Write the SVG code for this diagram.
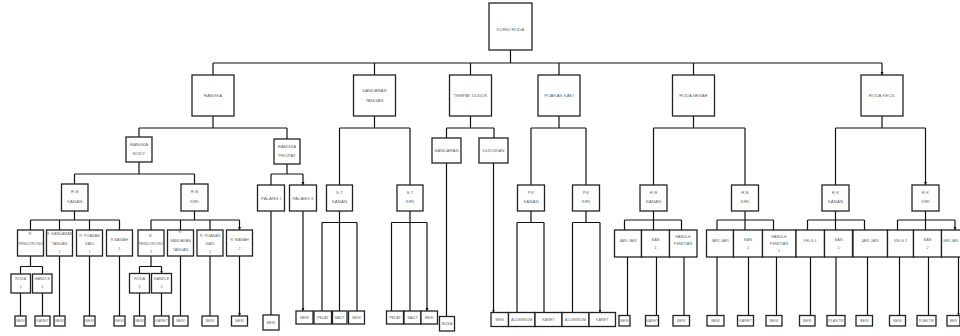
<svg xmlns="http://www.w3.org/2000/svg" width="960" height="336" viewBox="0 0 960 336">
<style>
.b{fill:#fff;stroke:#222;stroke-width:1.3}
.t{font-family:"Liberation Sans",Arial,sans-serif;font-size:4.4px;fill:#666;text-anchor:middle;dominant-baseline:central}
.s{font-size:3.8px}
.c{fill:none;stroke:#111;stroke-width:1.2}
.a{marker-end:url(#ah)}
</style>
<defs>
<marker id="ah" markerUnits="userSpaceOnUse" markerWidth="4" markerHeight="4" refX="3" refY="1.5" orient="auto"><path d="M0,0 L3,1.5 L0,3 z" fill="#111"/></marker>
</defs>
<rect width="960" height="336" fill="#fff"/>
<g id="connectors">
<path class="c" d="M510.5,50V63M213,63H882"/>
<path class="c a" d="M213,63V75M374.5,63V75M470.5,63V75M559,63V75M693.5,63V75M882,63V75"/>
<path class="c" d="M213,116V128M139,128H287M374.5,116V128M339.5,128H410M470.5,116V128M446.5,128H494M559,116V128M531,128H586M693.5,116V128M653.5,128H745M882,116V128M835.5,128H925.5"/>
<path class="c a" d="M139,128V137M287,128V139M339.5,128V185M410,128V185M446.5,128V138M494,128V138M531,128V185M586,128V185M653.5,128V185M745,128V185M835.5,128V185M925.5,128V185"/>
<path class="c" d="M139,162V174M74.5,174H194.5M287,164V174M271,174H303"/>
<path class="c a" d="M74.5,174V184M194.5,174V184M271,174V185M303,174V185"/>
<path class="c" d="M74.5,211V220M30.5,220H119.5M194.5,211V220M151,220H239.5"/>
<path class="c a" d="M30.5,220V230M59.5,220V230M89.5,220V230M119.5,220V230M151,220V230M180.5,220V230M210,220V230M239.5,220V230"/>
<path class="c" d="M30.5,256V266.5M20.5,266.5H42.5M151,256V266.5M139.5,266.5H161.5"/>
<path class="c a" d="M20.5,266.5V274M42.5,266.5V274M139.5,266.5V273.5M161.5,266.5V273.5"/>
<path class="c a" d="M20.5,293V316M42.5,293V316M59.5,256V316M89.5,256V316M119.5,256V316M139.5,293V316M161.5,293V316M180.5,256V316M210,256V316M239.5,256V316"/>
<path class="c a" d="M271,211V315M303,211V311"/>
<path class="c" d="M339.5,211V222.5M322,222.5H357M410,211V222.5M391.5,222.5H427"/>
<path class="c a" d="M322,222.5V311M339.5,222.5V311M357,222.5V311M391.5,222.5V311M410,222.5V311M427,222.5V311"/>
<path class="c a" d="M446.5,163V316.5M493.5,163V312.5"/>
<path class="c" d="M531,211V222.5M517,222.5H544M586,211V222.5M572.5,222.5H600"/>
<path class="c a" d="M517,222.5V312.5M544,222.5V312.5M572.5,222.5V312.5M600,222.5V312.5"/>
<path class="c" d="M653.5,211V220M624.5,220H681.5M745,211V220M717,220H773.5M835.5,211V220M807.5,220H864.5M925.5,211V220M897.5,220H955"/>
<path class="c a" d="M624.5,220V230M653.5,220V230M681.5,220V230M717,220V230M745,220V230M773.5,220V230M807.5,220V230M835.5,220V230M864.5,220V230M897.5,220V230M925.5,220V230M955,220V230"/>
<path class="c a" d="M627.5,257V315.5M656.5,257V315.5M684,257V315.5M717,257V315.5M748.5,257V315.5M776.5,257V315.5M810.5,257V315.5M836,257V315.5M867.5,257V315.5M899.5,257V315.5M928.5,257V315.5M958.5,257V315.5"/>
</g>
<g id="kursi-roda"><rect class="b" x="489" y="3" width="43" height="47"/><text class="t" x="510.5" y="29">KURSI RODA</text></g>
<g id="rangka"><rect class="b" x="192" y="75" width="42" height="41"/><text class="t" x="213" y="95.5">RANGKA</text></g>
<g id="sandaran-tangan"><rect class="b" x="353.5" y="75" width="42" height="41"/><text class="t" x="374.5" y="90.5">SANDARAN</text><text class="t" x="374.5" y="100">TANGAN</text></g>
<g id="tempat-duduk"><rect class="b" x="449.5" y="75" width="42" height="41"/><text class="t" x="470.5" y="95.5">TEMPAT DUDUK</text></g>
<g id="pijakan-kaki"><rect class="b" x="538" y="75" width="42" height="41"/><text class="t" x="559" y="95.5">PIJAKAN KAKI</text></g>
<g id="roda-besar"><rect class="b" x="672.5" y="75" width="42" height="41"/><text class="t" x="693.5" y="95.5">RODA BESAR</text></g>
<g id="roda-kecil"><rect class="b" x="861" y="75" width="42" height="41"/><text class="t" x="882" y="95.5">RODA KECIL</text></g>
<g id="rangka-body"><rect class="b" x="126" y="137" width="26" height="25"/><text class="t" x="139" y="144">RANGKA</text><text class="t" x="139" y="153">BODY</text></g>
<g id="rangka-pelipat"><rect class="b" x="274" y="139" width="26" height="25"/><text class="t" x="287" y="146">RANGKA</text><text class="t" x="287" y="155">PELIPAT</text></g>
<g id="sandaran"><rect class="b" x="432" y="138" width="29" height="25"/><text class="t" x="446.5" y="150.5">SANDARAN</text></g>
<g id="dudukan"><rect class="b" x="479" y="138" width="29" height="25"/><text class="t" x="493.5" y="150.5">DUDUKAN</text></g>
<g id="rb-body-kanan"><rect class="b" x="61.5" y="184" width="26.5" height="27"/><text class="t" x="74.75" y="191">R.B</text><text class="t" x="74.75" y="201">KANAN</text></g>
<g id="rb-body-kiri"><rect class="b" x="181" y="184" width="27" height="27"/><text class="t" x="194.5" y="191">R.B</text><text class="t" x="194.5" y="201">KIRI</text></g>
<g id="palang-1"><rect class="b" x="257.5" y="185" width="27" height="26"/><text class="t" x="271" y="198">PALANG I</text></g>
<g id="palang-2"><rect class="b" x="289.5" y="185" width="27" height="26"/><text class="t" x="303" y="198">PALANG II</text></g>
<g id="st-kanan"><rect class="b" x="326.5" y="185" width="26" height="26"/><text class="t" x="339.5" y="192">S.T</text><text class="t" x="339.5" y="201">KANAN</text></g>
<g id="st-kiri"><rect class="b" x="397" y="185" width="26" height="26"/><text class="t" x="410" y="192">S.T</text><text class="t" x="410" y="201">KIRI</text></g>
<g id="pk-kanan"><rect class="b" x="517.5" y="185" width="27" height="26"/><text class="t" x="531" y="192">P.K</text><text class="t" x="531" y="201">KANAN</text></g>
<g id="pk-kiri"><rect class="b" x="572.5" y="185" width="27" height="26"/><text class="t" x="586" y="192">P.K</text><text class="t" x="586" y="201">KIRI</text></g>
<g id="rb-kanan"><rect class="b" x="640" y="185" width="27" height="26"/><text class="t" x="653.5" y="192">R.B</text><text class="t" x="653.5" y="201">KANAN</text></g>
<g id="rb-kiri"><rect class="b" x="731.5" y="185" width="27" height="26"/><text class="t" x="745" y="192">R.B</text><text class="t" x="745" y="201">KIRI</text></g>
<g id="rk-kanan"><rect class="b" x="822" y="185" width="27" height="26"/><text class="t" x="835.5" y="192">R.K</text><text class="t" x="835.5" y="201">KANAN</text></g>
<g id="rk-kiri"><rect class="b" x="912" y="185" width="27" height="26"/><text class="t" x="925.5" y="192">R.K</text><text class="t" x="925.5" y="201">KIRI</text></g>
<g id="r-pendorong-1"><rect class="b" x="17.5" y="230" width="26" height="26"/><text class="t s" x="30.5" y="234">R.</text><text class="t s" x="30.5" y="244">PENDORONG</text></g>
<g id="r-sandaran-tangan-1"><rect class="b" x="46.5" y="230" width="26" height="26"/><text class="t s" x="59.5" y="234">R. SANDARAN</text><text class="t s" x="59.5" y="244">TANGAN</text><text class="t s" x="59.5" y="252">1</text></g>
<g id="r-pijakan-kaki-1"><rect class="b" x="76.5" y="230" width="26" height="26"/><text class="t s" x="89.5" y="236">R. PIJAKAN</text><text class="t s" x="89.5" y="244">KAKI</text><text class="t s" x="89.5" y="252">1</text></g>
<g id="r-bawah-1"><rect class="b" x="106.5" y="230" width="26" height="26"/><text class="t s" x="119.5" y="240">R.BAWAH</text><text class="t s" x="119.5" y="249">1</text></g>
<g id="r-pendorong-2"><rect class="b" x="138" y="230" width="26" height="26"/><text class="t s" x="151" y="236">R.</text><text class="t s" x="151" y="244">PENDORONG</text><text class="t s" x="151" y="252">2</text></g>
<g id="r-sandaran-tangan-2"><rect class="b" x="167.5" y="230" width="26" height="26"/><text class="t s" x="180.5" y="232">R.</text><text class="t s" x="180.5" y="240.5">SANDARAN</text><text class="t s" x="180.5" y="250">TANGAN</text></g>
<g id="r-pijakan-kaki-2"><rect class="b" x="197" y="230" width="26" height="26"/><text class="t s" x="210" y="236">R. PIJAKAN</text><text class="t s" x="210" y="244">KAKI</text><text class="t s" x="210" y="252">2</text></g>
<g id="r-bawah-2"><rect class="b" x="226.5" y="230" width="26" height="26"/><text class="t s" x="239.5" y="240">R. BAWAH</text><text class="t s" x="239.5" y="249">2</text></g>
<g id="roda-1"><rect class="b" x="11" y="274" width="19.5" height="19"/><text class="t s" x="20.75" y="279">RODA</text><text class="t s" x="20.75" y="287">1</text></g>
<g id="handle-1"><rect class="b" x="32.5" y="274" width="19.5" height="19"/><text class="t s" x="42.25" y="279">HANDLE</text><text class="t s" x="42.25" y="287">1</text></g>
<g id="roda-2"><rect class="b" x="129.5" y="273.5" width="20" height="19.5"/><text class="t s" x="139.5" y="279">RODA</text><text class="t s" x="139.5" y="287">2</text></g>
<g id="handle-2"><rect class="b" x="151.5" y="273.5" width="20" height="19.5"/><text class="t s" x="161.5" y="279">HANDLE</text><text class="t s" x="161.5" y="287">2</text></g>
<g id="jari-1"><rect class="b" x="614.5" y="230" width="27" height="27"/><text class="t s" x="628" y="241">JARI-JARI</text></g>
<g id="ban-1"><rect class="b" x="641.5" y="230" width="28" height="27"/><text class="t s" x="655.5" y="240">BAN</text><text class="t s" x="655.5" y="248">1</text></g>
<g id="handle-pemutar-1"><rect class="b" x="669.5" y="230" width="27.5" height="27"/><text class="t s" x="683" y="237">HANDLE</text><text class="t s" x="683" y="244">PEMUTAR</text></g>
<g id="jari-2"><rect class="b" x="706.5" y="230" width="27" height="27"/><text class="t s" x="720" y="241">JARI-JARI</text></g>
<g id="ban-2"><rect class="b" x="733.5" y="230" width="29" height="27"/><text class="t s" x="748" y="240">BAN</text><text class="t s" x="748" y="248">2</text></g>
<g id="handle-pemutar-2"><rect class="b" x="762.5" y="230" width="33.5" height="27"/><text class="t s" x="779" y="237">HANDLE</text><text class="t s" x="779" y="244">PEMUTAR</text><text class="t s" x="779" y="251">2</text></g>
<g id="velg-1"><rect class="b" x="796" y="230" width="28.5" height="27"/><text class="t s" x="810" y="241">VELG 1</text></g>
<g id="ban-k1"><rect class="b" x="824.5" y="230" width="28" height="27"/><text class="t s" x="838.5" y="240">BAN</text><text class="t s" x="838.5" y="248">1</text></g>
<g id="jari-k1"><rect class="b" x="853" y="230" width="34.5" height="27"/><text class="t s" x="870" y="241">JARI-JARI</text></g>
<g id="velg-2"><rect class="b" x="887.5" y="230" width="26" height="27"/><text class="t s" x="900.5" y="241">VELG 2</text></g>
<g id="ban-k2"><rect class="b" x="913.5" y="230" width="28" height="27"/><text class="t s" x="927.5" y="240">BAN</text><text class="t s" x="927.5" y="248">2</text></g>
<g id="jari-k2"><rect class="b" x="941.5" y="230" width="28" height="27"/><text class="t s" x="950.5" y="241" style="font-size:3.3px">JARI-JARI</text></g>
<g id="leaves">
<rect class="b" x="15" y="316" width="11" height="10"/><text class="t s" x="20.5" y="321">BESI</text>
<rect class="b" x="35" y="316" width="15" height="10"/><text class="t s" x="42.5" y="321">KARET</text>
<rect class="b" x="54" y="316" width="11" height="10"/><text class="t s" x="59.5" y="321">BESI</text>
<rect class="b" x="84" y="316" width="11" height="10"/><text class="t s" x="89.5" y="321">BESI</text>
<rect class="b" x="114" y="316" width="11" height="10"/><text class="t s" x="119.5" y="321">BESI</text>
<rect class="b" x="134" y="316" width="11" height="10"/><text class="t s" x="139.5" y="321">BESI</text>
<rect class="b" x="154" y="316" width="15" height="10"/><text class="t s" x="161.5" y="321">KARET</text>
<rect class="b" x="173" y="316" width="15" height="10"/><text class="t s" x="180.5" y="321">BESI</text>
<rect class="b" x="202" y="316" width="16" height="10"/><text class="t s" x="210" y="321">BESI</text>
<rect class="b" x="231.5" y="316" width="16" height="10"/><text class="t s" x="239.5" y="321">BESI</text>
<rect class="b" x="263" y="315" width="16" height="15"/><text class="t s" x="271" y="322.5">BESI</text>
<rect class="b" x="296" y="311" width="17" height="13"/><text class="t s" x="304.5" y="317.5">BESI</text>
<rect class="b" x="314" y="311" width="17.5" height="13"/><text class="t s" x="322.75" y="317.5">PELAT</text>
<rect class="b" x="332.5" y="311" width="14.5" height="13"/><text class="t s" x="339.75" y="317.5">BAUT</text>
<rect class="b" x="348.5" y="311" width="16" height="13"/><text class="t s" x="356.5" y="317.5">BESI</text>
<rect class="b" x="386.5" y="311" width="17" height="13"/><text class="t s" x="395" y="317.5">PELAT</text>
<rect class="b" x="404" y="311" width="17" height="13"/><text class="t s" x="412.5" y="317.5">BAUT</text>
<rect class="b" x="421" y="311" width="16.5" height="13"/><text class="t s" x="429.25" y="317.5">BESI</text>
<rect class="b" x="439.5" y="316.5" width="15" height="14.5"/><text class="t s" x="447" y="323.75">BUSA</text>
<rect class="b" x="491" y="312.5" width="17.5" height="14"/><text class="t s" x="499.75" y="319.5">BESI</text>
<rect class="b" x="508.5" y="312.5" width="26.5" height="14"/><text class="t s" x="521.75" y="319.5">ALUMINIUM</text>
<rect class="b" x="535" y="312.5" width="27" height="14"/><text class="t s" x="548.5" y="319.5">KARET</text>
<rect class="b" x="562" y="312.5" width="27" height="14"/><text class="t s" x="575.5" y="319.5">ALUMINIUM</text>
<rect class="b" x="589" y="312.5" width="26.5" height="14"/><text class="t s" x="602.25" y="319.5">KARET</text>
<rect class="b" x="619" y="315.5" width="11" height="10.5"/><text class="t s" x="624.5" y="320.75">BESI</text>
<rect class="b" x="645.5" y="315.5" width="13" height="10.5"/><text class="t s" x="652" y="320.75">KARET</text>
<rect class="b" x="673" y="315.5" width="16.5" height="10.5"/><text class="t s" x="681.25" y="320.75">BESI</text>
<rect class="b" x="707" y="315.5" width="17" height="10.5"/><text class="t s" x="715.5" y="320.75">BESI</text>
<rect class="b" x="737.5" y="315.5" width="16" height="10.5"/><text class="t s" x="745.5" y="320.75">KARET</text>
<rect class="b" x="766" y="315.5" width="16" height="10.5"/><text class="t s" x="774" y="320.75">BESI</text>
<rect class="b" x="799.5" y="315.5" width="15.5" height="10.5"/><text class="t s" x="807.25" y="320.75">BESI</text>
<rect class="b" x="827" y="315.5" width="18" height="10.5"/><text class="t s" x="836" y="320.75">PLASTIK</text>
<rect class="b" x="856" y="315.5" width="16.5" height="10.5"/><text class="t s" x="864.25" y="320.75">BESI</text>
<rect class="b" x="889.5" y="315.5" width="16" height="10.5"/><text class="t s" x="897.5" y="320.75">BESI</text>
<rect class="b" x="917" y="315.5" width="19" height="10.5"/><text class="t s" x="926.5" y="320.75">PLASTIK</text>
<rect class="b" x="947" y="315.5" width="13" height="10.5"/><text class="t s" x="953.5" y="320.75" style="font-size:3.3px">BESI</text>
</g>
</svg>
